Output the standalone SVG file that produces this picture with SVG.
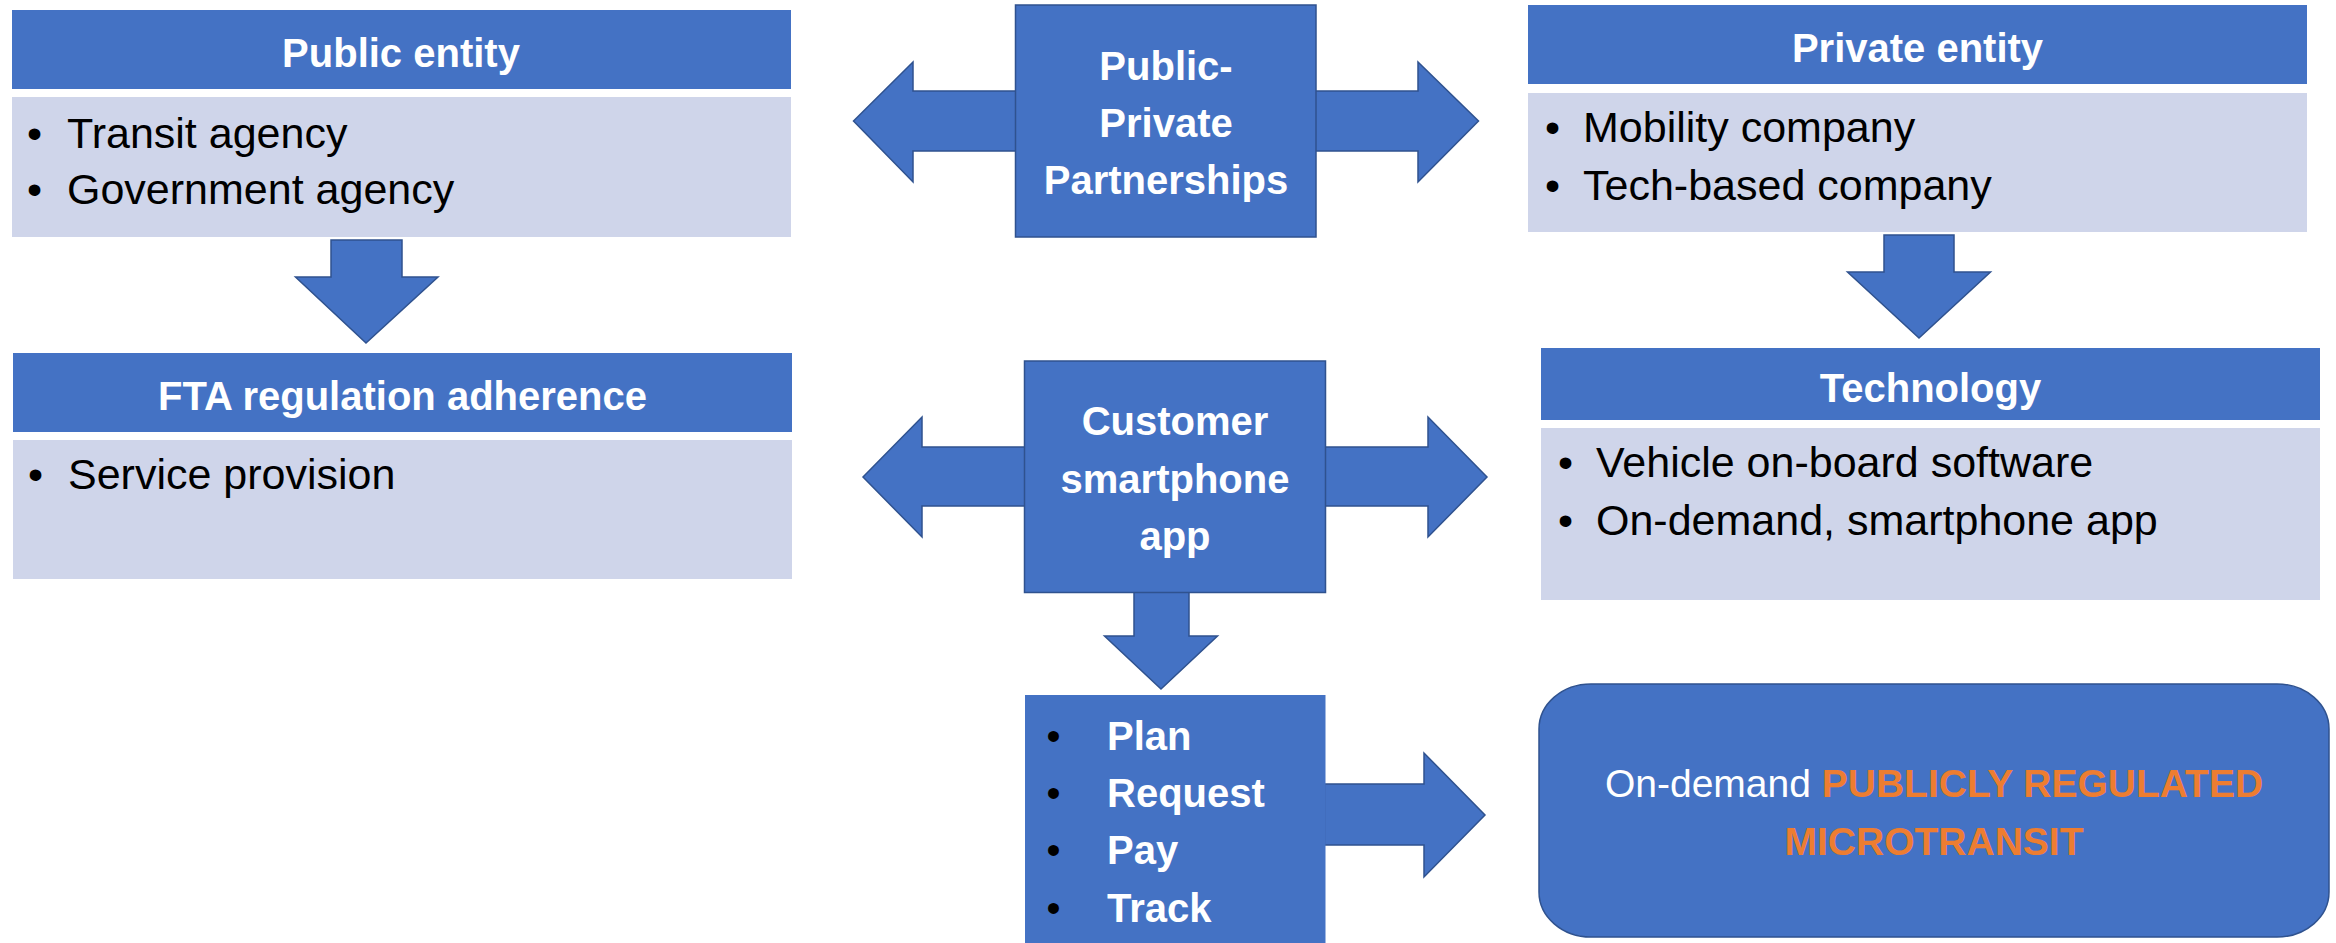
<svg xmlns="http://www.w3.org/2000/svg" width="2336" height="943" viewBox="0 0 2336 943">
  <style>
    .hdr { fill: #4472C4; }
    .body { fill: #CFD5EA; }
    .shape { fill: #4472C4; stroke: #2F528F; stroke-width: 1.5; stroke-linejoin: miter; }
    .plain { fill: #4472C4; }
    .title { font-family: "Liberation Sans", Arial, sans-serif; font-weight: bold; font-size: 40px; fill: #FFFFFF; text-anchor: middle; }
    .item { font-family: "Liberation Sans", Arial, sans-serif; font-size: 43px; fill: #000000; }
    .step { font-family: "Liberation Sans", Arial, sans-serif; font-weight: bold; font-size: 40px; fill: #FFFFFF; }
    .dot { font-family: "Liberation Sans", Arial, sans-serif; font-size: 40px; fill: #000000; }
    .result { font-family: "Liberation Sans", Arial, sans-serif; font-size: 39px; fill: #FFFFFF; text-anchor: middle; }
    .accent { font-weight: bold; fill: #ED7D31; }
  </style>

  <!-- connectors: block arrows between the panels -->
  <g id="connectors">
    <!-- Public entity -> FTA regulation adherence -->
    <polygon class="shape" points="331,240 402,240 402,277 438,277 366,343 295.5,277 331,277"/>
    <!-- Private entity -> Technology -->
    <polygon class="shape" points="1884,235 1954,235 1954,272 1990.5,272 1919,338 1847.5,272 1884,272"/>
    <!-- Public-Private Partnerships double arrow -->
    <polygon class="shape" points="853.5,121 913,62 913,91 1418,91 1418,62 1478.5,121 1418,182 1418,151 913,151 913,182"/>
    <!-- Customer smartphone app double arrow -->
    <polygon class="shape" points="863,477 922,417 922,447 1428,447 1428,417 1487,477 1428,537 1428,506 922,506 922,537"/>
    <!-- app -> steps -->
    <polygon class="shape" points="1134,592 1189,592 1189,636 1217.5,636 1161,689 1104.5,636 1134,636"/>
    <!-- steps -> result -->
    <polygon class="shape" points="1324.5,784 1424,784 1424,753 1485,815 1424,877 1424,845 1324.5,845"/>
  </g>

  <!-- Public entity -->
  <g id="public-entity">
    <rect class="hdr" x="12" y="10" width="779" height="79"/>
    <text class="title" x="401" y="67">Public entity</text>
    <rect class="body" x="12" y="97" width="779" height="140"/>
    <text class="item" x="27" y="148">•</text>
    <text class="item" x="67" y="148">Transit agency</text>
    <text class="item" x="27" y="204">•</text>
    <text class="item" x="67" y="204">Government agency</text>
  </g>

  <!-- FTA regulation adherence -->
  <g id="fta-regulation">
    <rect class="hdr" x="13" y="353" width="779" height="79"/>
    <text class="title" x="402.5" y="410">FTA regulation adherence</text>
    <rect class="body" x="13" y="440" width="779" height="139"/>
    <text class="item" x="28" y="489">•</text>
    <text class="item" x="68" y="489">Service provision</text>
  </g>

  <!-- Public-Private Partnerships -->
  <g id="ppp">
    <rect class="shape" x="1015.5" y="5" width="300.5" height="232"/>
    <text class="title" x="1166" y="80">Public-</text>
    <text class="title" x="1166" y="137">Private</text>
    <text class="title" x="1166" y="194">Partnerships</text>
  </g>

  <!-- Private entity -->
  <g id="private-entity">
    <rect class="hdr" x="1528" y="5" width="779" height="79"/>
    <text class="title" x="1917.5" y="62">Private entity</text>
    <rect class="body" x="1528" y="93" width="779" height="139"/>
    <text class="item" x="1545" y="142">•</text>
    <text class="item" x="1583" y="142">Mobility company</text>
    <text class="item" x="1545" y="200">•</text>
    <text class="item" x="1583" y="200">Tech-based company</text>
  </g>

  <!-- Customer smartphone app -->
  <g id="customer-app">
    <rect class="shape" x="1024.5" y="361" width="301" height="231.5"/>
    <text class="title" x="1175" y="435">Customer</text>
    <text class="title" x="1175" y="493">smartphone</text>
    <text class="title" x="1175" y="550">app</text>
  </g>

  <!-- Technology -->
  <g id="technology">
    <rect class="hdr" x="1541" y="348" width="779" height="72"/>
    <text class="title" x="1930.5" y="402">Technology</text>
    <rect class="body" x="1541" y="428" width="779" height="172"/>
    <text class="item" x="1558" y="477">•</text>
    <text class="item" x="1596" y="477">Vehicle on-board software</text>
    <text class="item" x="1558" y="535">•</text>
    <text class="item" x="1596" y="535">On-demand, smartphone app</text>
  </g>

  <!-- App functions -->
  <g id="app-steps">
    <rect class="plain" x="1025" y="695" width="300.5" height="250"/>
    <text class="dot" x="1046.5" y="750">•</text>
    <text class="step" x="1107" y="750">Plan</text>
    <text class="dot" x="1046.5" y="807">•</text>
    <text class="step" x="1107" y="807">Request</text>
    <text class="dot" x="1046.5" y="864">•</text>
    <text class="step" x="1107" y="864">Pay</text>
    <text class="dot" x="1046.5" y="922">•</text>
    <text class="step" x="1107" y="922">Track</text>
  </g>

  <!-- Outcome -->
  <g id="microtransit">
    <rect class="shape" x="1539" y="684" width="790" height="253" rx="52" ry="45"/>
    <text class="result" x="1934" y="797">On-demand <tspan class="accent">PUBLICLY REGULATED</tspan></text>
    <text class="result accent" x="1934" y="855">MICROTRANSIT</text>
  </g>
</svg>
